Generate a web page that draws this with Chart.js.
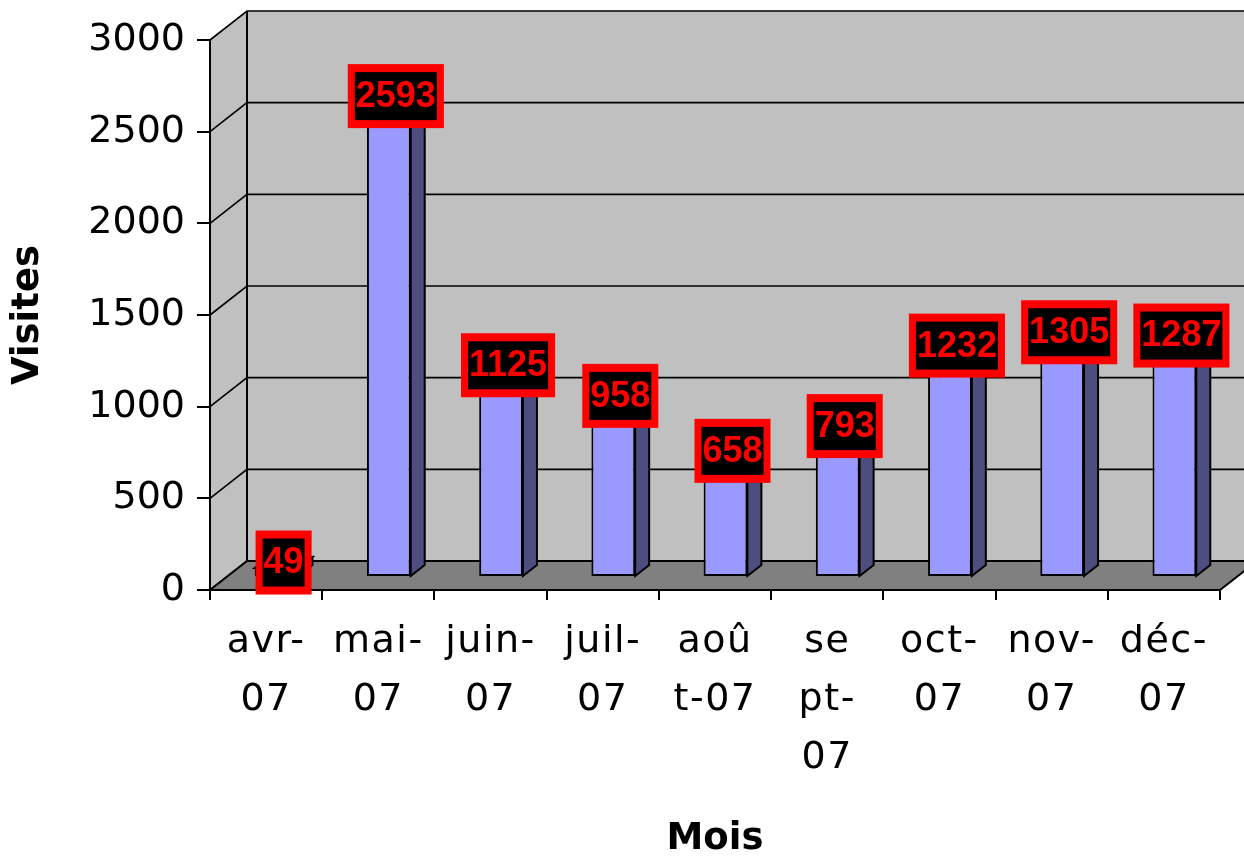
<!DOCTYPE html>
<html>
<head>
<meta charset="utf-8">
<script src="https://cdn.jsdelivr.net/npm/chart.js@4/dist/chart.umd.min.js"></script>
<style>
  html, body { margin: 0; padding: 0; background: #ffffff; }
  canvas { display: block; }
</style>
</head>
<body>
<canvas id="c" width="1244" height="859"></canvas>
<script>
// ---- data ----
const categories = [
  ['avr-', '07'], ['mai-', '07'], ['juin-', '07'], ['juil-', '07'],
  ['aoû', 't-07'], ['se', 'pt-', '07'], ['oct-', '07'], ['nov-', '07'], ['déc-', '07']
];
const visites = [49, 2593, 1125, 958, 658, 793, 1232, 1305, 1287];
const yTicks = [0, 500, 1000, 1500, 2000, 2500, 3000];
const xTitle = 'Mois';
const yTitle = 'Visites';

// ---- 3D look parameters ----
const DEPTH_X = 37, DEPTH_Y = -29;      // wall depth
const BAR_DX = 10.5, BAR_DY = -13;      // bar front plane shift
const SIDE_DX = 14, SIDE_DY = -11;      // bar depth

const walls3d = {
  id: 'walls3d',
  afterLayout(chart) {
    const s = chart.scales.x;
    if (s && !s._spaced) {
      const orig = s.drawLabels.bind(s);
      s.drawLabels = function (area) {
        const c = this.ctx;
        c.save();
        c.letterSpacing = '1.5px';
        orig(area);
        c.restore();
      };
      s._spaced = true;
    }
  },
  beforeDraw(chart) {
    const ctx = chart.ctx;
    const xs = chart.scales.x, ys = chart.scales.y;
    const L = xs.left, R = xs.right;
    const y0 = ys.getPixelForValue(0), yTop = ys.getPixelForValue(3000);
    ctx.save();
    // back wall
    ctx.fillStyle = '#c0c0c0';
    ctx.fillRect(L + DEPTH_X, yTop + DEPTH_Y, chart.width, y0 - yTop);
    // side wall
    ctx.beginPath();
    ctx.moveTo(L, yTop); ctx.lineTo(L + DEPTH_X, yTop + DEPTH_Y);
    ctx.lineTo(L + DEPTH_X, y0 + DEPTH_Y); ctx.lineTo(L, y0); ctx.closePath();
    ctx.fill();
    // gridlines
    ctx.strokeStyle = '#000'; ctx.lineWidth = 1.6;
    yTicks.forEach(v => {
      const y = ys.getPixelForValue(v);
      ctx.beginPath();
      ctx.moveTo(L, y); ctx.lineTo(L + DEPTH_X, y + DEPTH_Y);
      ctx.lineTo(chart.width + 5, y + DEPTH_Y);
      ctx.stroke();
    });
    // floor
    ctx.fillStyle = '#808080';
    ctx.beginPath();
    ctx.moveTo(L, y0); ctx.lineTo(R, y0);
    ctx.lineTo(R + DEPTH_X, y0 + DEPTH_Y); ctx.lineTo(L + DEPTH_X, y0 + DEPTH_Y);
    ctx.closePath();
    ctx.fill();
    ctx.lineWidth = 2;
    ctx.stroke();
    // back wall left edge
    ctx.beginPath();
    ctx.moveTo(L + DEPTH_X, yTop + DEPTH_Y); ctx.lineTo(L + DEPTH_X, y0 + DEPTH_Y);
    ctx.stroke();
    ctx.restore();
  },
  beforeDatasetsDraw(chart) {
    chart.ctx.save();
    chart.ctx.translate(BAR_DX, BAR_DY);
  },
  afterDatasetsDraw(chart) {
    const ctx = chart.ctx;
    ctx.restore();
    const meta = chart.getDatasetMeta(0);
    ctx.save();
    ctx.strokeStyle = '#000'; ctx.lineWidth = 2; ctx.lineJoin = 'miter';
    meta.data.forEach(bar => {
      const p = bar.getProps(['x', 'y', 'base', 'width'], true);
      const xl = p.x - p.width / 2 + BAR_DX, xr = p.x + p.width / 2 + BAR_DX;
      const yt = p.y + BAR_DY, yb = p.base + BAR_DY;
      // side face
      ctx.fillStyle = '#4d4d80';
      ctx.beginPath();
      ctx.moveTo(xr, yt); ctx.lineTo(xr + SIDE_DX, yt + SIDE_DY);
      ctx.lineTo(xr + SIDE_DX, yb + SIDE_DY); ctx.lineTo(xr, yb); ctx.closePath();
      ctx.fill(); ctx.stroke();
      // top face
      ctx.fillStyle = '#6b6bb3';
      ctx.beginPath();
      ctx.moveTo(xl, yt); ctx.lineTo(xl + SIDE_DX, yt + SIDE_DY);
      ctx.lineTo(xr + SIDE_DX, yt + SIDE_DY); ctx.lineTo(xr, yt); ctx.closePath();
      ctx.fill(); ctx.stroke();
    });
    // value labels
    ctx.font = 'bold 36px "Liberation Sans", Arial, sans-serif';
    ctx.textAlign = 'center'; ctx.textBaseline = 'middle';
    meta.data.forEach((bar, i) => {
      const p = bar.getProps(['x', 'y'], true);
      const cx = p.x + BAR_DX + SIDE_DX / 2;
      const cy = p.y + BAR_DY + SIDE_DY / 2;
      const txt = String(visites[i]);
      const tw = ctx.measureText(txt).width;
      const w = tw + 16, h = 64;
      const bx = 7, by = 8;
      ctx.fillStyle = '#ff0000';
      ctx.fillRect(cx - w / 2, cy - h / 2, w, h);
      ctx.fillStyle = '#000000';
      ctx.fillRect(cx - w / 2 + bx, cy - h / 2 + by, w - 2 * bx, h - 2 * by);
      ctx.fillStyle = '#ff0000';
      ctx.fillText(txt, cx, cy + 1);
    });
    ctx.restore();
  }
};

new Chart(document.getElementById('c'), {
  type: 'bar',
  data: {
    labels: categories,
    datasets: [{
      data: visites,
      backgroundColor: '#9999ff',
      borderColor: '#000000',
      borderWidth: 2,
      borderSkipped: false,
      barPercentage: 0.39,
      categoryPercentage: 1.0
    }]
  },
  options: {
    responsive: false,
    devicePixelRatio: 1,
    animation: false,
    layout: { padding: { top: 40, right: 24, left: 0, bottom: 0 } },
    plugins: { legend: { display: false }, tooltip: { enabled: false } },
    scales: {
      x: {
        offset: true,
        grid: { offset: true, drawOnChartArea: false, drawTicks: true, tickLength: 10, color: '#000', lineWidth: 2 },
        border: { display: true, color: '#000', width: 2 },
        ticks: {
          autoSkip: false, maxRotation: 0, minRotation: 0, padding: 13, color: '#000',
          font: { family: '"DejaVu Sans", Verdana, sans-serif', size: 38, lineHeight: 58 / 38 }
        },
        title: {
          display: true, text: xTitle, color: '#000',
          font: { family: '"DejaVu Sans", Verdana, sans-serif', size: 37, weight: 'bold', lineHeight: 1 },
          padding: { top: 0, bottom: 1 }
        },
        afterFit(scale) { scale.height = 269; }
      },
      y: {
        min: 0, max: 3000,
        afterBuildTicks(scale) { scale.ticks = yTicks.map(v => ({ value: v })); },
        grid: { drawOnChartArea: false, drawTicks: true, tickLength: 13, color: '#000', lineWidth: 2 },
        border: { display: true, color: '#000', width: 2 },
        ticks: {
          padding: 12, color: '#000',
          callback: (v) => String(v),
          font: { family: '"DejaVu Sans", Verdana, sans-serif', size: 38 }
        },
        title: {
          display: true, text: yTitle, color: '#000',
          font: { family: '"DejaVu Sans", Verdana, sans-serif', size: 37, weight: 'bold', lineHeight: 1 },
          padding: { top: 9.5, bottom: 0 }
        },
        afterFit(scale) { scale.width = 210; }
      }
    }
  },
  plugins: [walls3d]
});
</script>
</body>
</html>
